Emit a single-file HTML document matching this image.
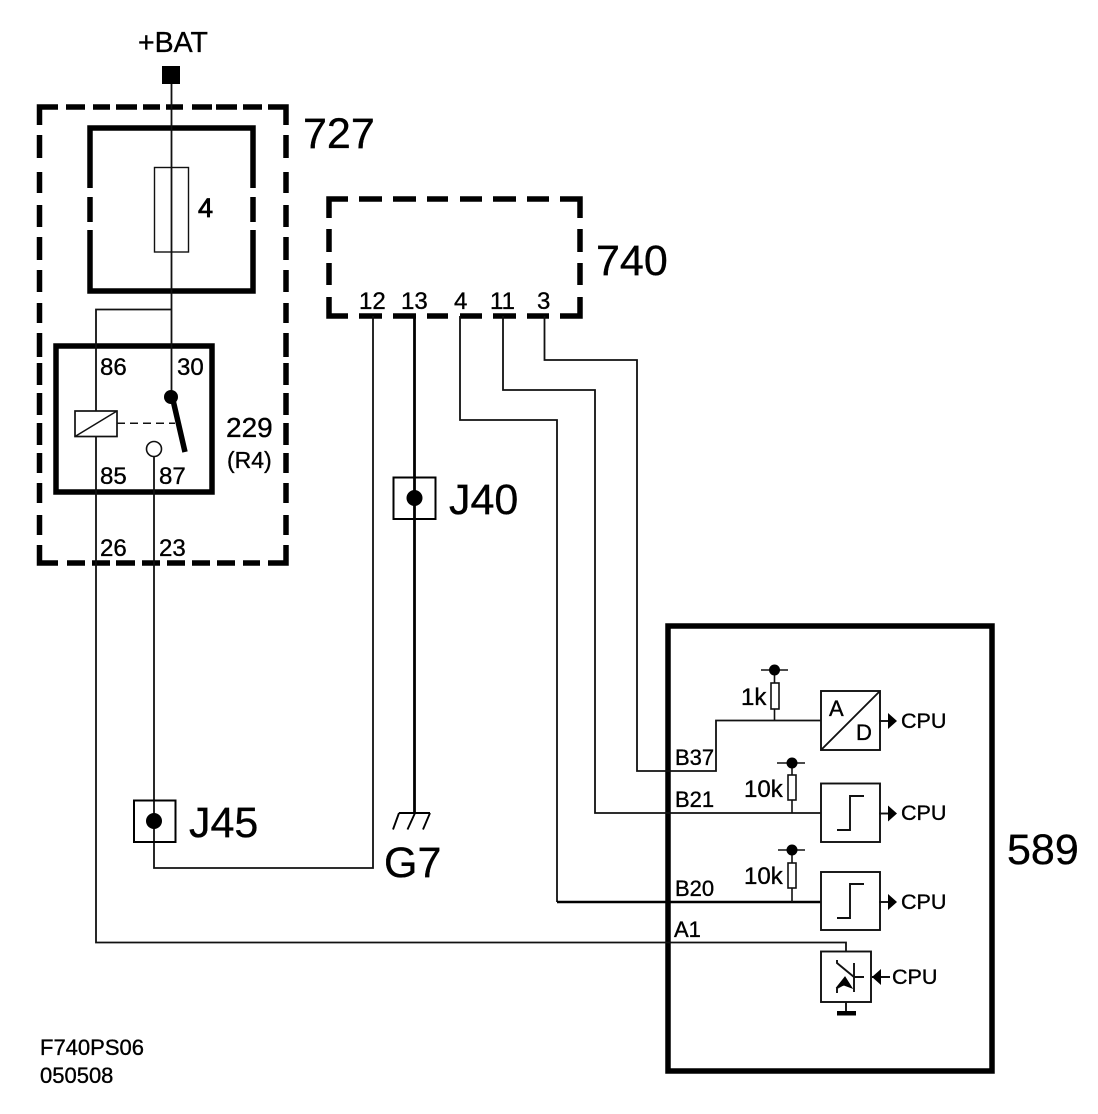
<!DOCTYPE html>
<html>
<head>
<meta charset="utf-8">
<title>F740PS06</title>
<style>
html,body{margin:0;padding:0;background:#fff;}
svg{display:block;}
text{font-family:"Liberation Sans",Arial,sans-serif;fill:#000;stroke:#000;stroke-width:0.35px;}
</style>
</head>
<body>
<svg width="1098" height="1114" viewBox="0 0 1098 1114" xmlns="http://www.w3.org/2000/svg">
<rect width="1098" height="1114" fill="#fff"/>

<!-- 727 dashed box -->
<g stroke="#000" stroke-width="5.5" fill="none">
<path d="M39.5 125V107H58M66 107H85M93 107H110M116 107H137M143 107H160M166 107H183M192 107H212M216 107H237M243 107H262M268 107H286V125"/>
<path d="M39.5 135V158M39.5 172V193M39.5 205V227M39.5 237V260M39.5 270V292M39.5 303V323M39.5 333V357M39.5 363V385M39.5 393V415M39.5 423V445M39.5 453V473M39.5 483V503M39.5 515V535"/>
<path d="M286 135V158M286 172V193M286 205V227M286 237V260M286 270V292M286 303V323M286 333V357M286 363V385M286 393V415M286 423V445M286 453V473M286 483V503M286 515V535"/>
<path d="M39.5 545V563H58M67 563H85M92 563H110M116 563H135M142 563H160M167 563H185M192 563H210M217 563H235M243 563H260M268 563H286V545"/>
</g>

<!-- Fuse box -->
<g stroke="#000" stroke-width="5.5" fill="none">
<path d="M90 188V128H253V188"/>
<path d="M90 197V222M253 197V222"/>
<path d="M90 230V291H253V230"/>
</g>
<rect x="154.5" y="167.5" width="34" height="84.5" fill="none" stroke="#111" stroke-width="1.4"/>

<!-- Relay box -->
<rect x="56" y="346" width="156" height="146" fill="none" stroke="#000" stroke-width="5.5"/>

<!-- 740 dashed box -->
<g stroke="#000" stroke-width="5.5" fill="none">
<path d="M329 218V199H348M359 199H382M393 199H416M427 199H448M460 199H482M493 199H516M527 199H549M560 199H580V218"/>
<path d="M329 229V252M329 263V285M580 229V252M580 263V285"/>
<path d="M329 297V316H348M359 316H382M393 316H416M427 316H448M460 316H482M493 316H516M527 316H549M560 316H580V297"/>
</g>

<!-- 589 box -->
<rect x="668" y="626" width="324" height="445" fill="none" stroke="#000" stroke-width="5.5"/>

<!-- Wires -->
<g stroke="#111" stroke-width="1.8" fill="none">
<path d="M171.5 84V397"/>
<path d="M171.5 309.5H96V942.5H846V952"/>
<path d="M154 457V868H373V316"/>
<path d="M460 316V420H557V902"/>
<path d="M503 316V390H595V813H821"/>
<path d="M544.500 316V360H637V771H716V720.500H821"/>
</g>
<path d="M557 902H821" stroke="#000" stroke-width="2.4" fill="none"/>
<path d="M414.500 316V813" stroke="#000" stroke-width="2.800" fill="none"/>

<!-- +BAT terminal -->
<rect x="162" y="66" width="18" height="18" fill="#000"/>

<!-- Relay internals -->
<circle cx="171" cy="397" r="7" fill="#000"/>
<path d="M173 400L185 452" stroke="#000" stroke-width="5.500" fill="none"/>
<rect x="75" y="411" width="42" height="25.500" fill="#fff" stroke="#111" stroke-width="1.700"/>
<path d="M75 436.500L117 411" stroke="#111" stroke-width="1.500" fill="none"/>
<path d="M117 423.300H175" stroke="#111" stroke-width="1.500" stroke-dasharray="8 5" fill="none"/>
<circle cx="154" cy="449" r="7.500" fill="#fff" stroke="#111" stroke-width="1.600"/>

<!-- J40 -->
<rect x="393.500" y="477.500" width="42" height="41.500" fill="none" stroke="#000" stroke-width="2"/>
<circle cx="414.500" cy="498" r="8" fill="#000"/>

<!-- J45 -->
<rect x="134" y="800.500" width="41.500" height="41.500" fill="none" stroke="#000" stroke-width="2"/>
<circle cx="154" cy="821" r="8" fill="#000"/>

<!-- Ground G7 -->
<g stroke="#000" stroke-width="1.900" fill="none">
<path d="M399 813H430M399 813L393 829.500M415 813L407.500 829.500M430 813L423 829.500"/>
</g>

<!-- resistors -->
<g stroke="#111" stroke-width="1.600" fill="none">
<path d="M761 670H788M774.500 670V683M774.500 709V720.500"/>
<rect x="771" y="683" width="8" height="26"/>
<path d="M777 763H805M792 763V775M792 800V813"/>
<rect x="788" y="775" width="8" height="25"/>
<path d="M778 850H805M792 850V863M792 888V902"/>
<rect x="788" y="863" width="8" height="25"/>
</g>
<circle cx="774.500" cy="670" r="5.500" fill="#000"/>
<circle cx="792" cy="763" r="5.500" fill="#000"/>
<circle cx="792" cy="850" r="5.500" fill="#000"/>

<!-- blocks -->
<g stroke="#111" stroke-width="1.900" fill="none">
<rect x="821" y="691" width="59" height="59"/>
<path d="M821 750L880 691"/>
<path d="M879 721H889"/>
<rect x="821" y="783.500" width="59" height="58.500"/>
<path d="M837 830H850V796H864"/>
<path d="M879 813.500H889"/>
<rect x="821" y="872" width="59" height="58"/>
<path d="M837 918H850V884H864"/>
<path d="M879 902H889"/>
<rect x="821" y="951.500" width="50" height="50.500"/>
<path d="M872 977H890"/>
<path d="M846 1002V1012"/>
<path d="M854 963V992M854 977H864"/>
<path d="M837 960V963L854 977M837 993V988L846 983"/>
</g>
<path d="M837 987L845 977L852 988L844 985Z" fill="#000" stroke="#000" stroke-width="1"/>
<rect x="837" y="1011" width="19" height="4.500" fill="#000"/>
<path d="M888 713V729L897 721Z" fill="#000"/>
<path d="M888 805.500V821.500L897 813.500Z" fill="#000"/>
<path d="M888 894V910L897 902Z" fill="#000"/>
<path d="M881 969V985L872 977Z" fill="#000"/>

<!-- Labels -->
<text x="138" y="52" font-size="28.500">+BAT</text>
<text x="303" y="148" font-size="43">727</text>
<text x="198" y="217" font-size="27" style="stroke-width:.8px">4</text>
<text x="100" y="375" font-size="24">86</text>
<text x="177" y="375" font-size="24">30</text>
<text x="100" y="484" font-size="24">85</text>
<text x="159" y="484" font-size="24">87</text>
<text x="100" y="556" font-size="24">26</text>
<text x="159" y="556" font-size="24">23</text>
<text x="226" y="437" font-size="28">229</text>
<text x="227" y="468" font-size="23">(R4)</text>
<text x="596" y="275" font-size="43">740</text>
<text x="359" y="309" font-size="24">12</text>
<text x="401" y="309" font-size="24">13</text>
<text x="454" y="309" font-size="24">4</text>
<text x="490" y="309" font-size="24">11</text>
<text x="537" y="309" font-size="24">3</text>
<text x="449" y="514" font-size="43">J40</text>
<text x="189" y="837" font-size="43">J45</text>
<text x="384" y="877" font-size="43">G7</text>
<text x="1007" y="864" font-size="43">589</text>
<text x="741" y="705" font-size="24">1k</text>
<text x="744" y="797" font-size="24">10k</text>
<text x="744" y="884" font-size="24">10k</text>
<text x="675" y="765" font-size="22">B37</text>
<text x="675" y="807" font-size="22">B21</text>
<text x="675" y="896" font-size="22">B20</text>
<text x="674" y="937" font-size="22">A1</text>
<text x="829" y="716" font-size="22">A</text>
<text x="856" y="740" font-size="22">D</text>
<text x="901" y="728" font-size="21.500">CPU</text>
<text x="901" y="820" font-size="21.500">CPU</text>
<text x="901" y="909" font-size="21.500">CPU</text>
<text x="892" y="984" font-size="21.500">CPU</text>
<text x="40" y="1055" font-size="22">F740PS06</text>
<text x="40" y="1083" font-size="22">050508</text>
</svg>
</body>
</html>
